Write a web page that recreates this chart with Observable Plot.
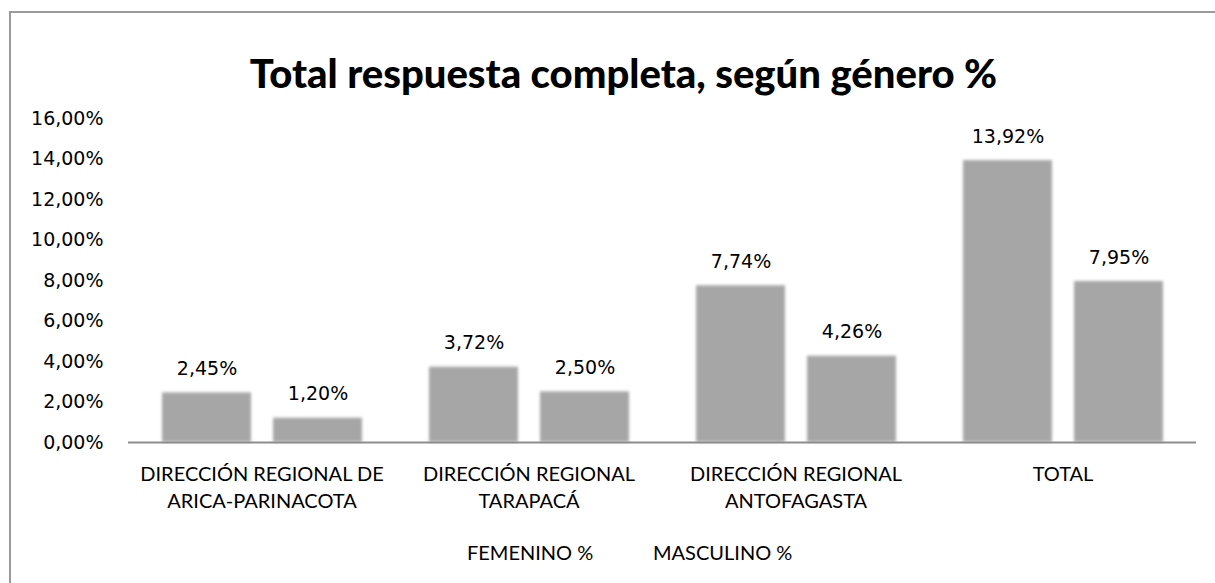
<!DOCTYPE html>
<html><head><meta charset="utf-8">
<script src="https://cdn.jsdelivr.net/npm/d3@7"></script>
<script src="https://cdn.jsdelivr.net/npm/@observablehq/plot@0.6"></script>
<style>
html,body{margin:0;padding:0;width:1215px;height:583px;overflow:hidden;background:#fff;}
#wrap{position:relative;width:1215px;height:583px;overflow:hidden;}
#frame{position:absolute;left:9px;top:11px;width:1300px;height:700px;border:2px solid #9a9a9a;box-sizing:border-box;}
#title{position:absolute;left:16px;top:49px;width:1215px;text-align:center;font-family:Lato,sans-serif;font-weight:900;font-size:40px;line-height:48px;color:#000;white-space:nowrap;}
.leg{position:absolute;top:540px;font-family:Lato,sans-serif;font-size:20px;line-height:24px;color:#000;white-space:nowrap;}
#chart{position:absolute;left:0;top:0;}
#chart g[aria-label="bar"] rect{filter:blur(1.5px);}
</style>
</head><body>
<div id="wrap">
  <div id="frame"></div>
  <div id="chart"></div>
  <div id="title"></div>
</div>
<script>
const titleText = "Total respuesta completa, según género %";
const categories = [
  "DIRECCIÓN REGIONAL DE\nARICA-PARINACOTA",
  "DIRECCIÓN REGIONAL\nTARAPACÁ",
  "DIRECCIÓN REGIONAL\nANTOFAGASTA",
  "TOTAL"
];
const series = ["FEMENINO %", "MASCULINO %"];
const femenino = [2.45, 3.72, 7.74, 13.92];
const masculino = [1.20, 2.50, 4.26, 7.95];
const yTicks = [0, 2, 4, 6, 8, 10, 12, 14, 16];

const data = categories.flatMap((c, i) => [
  {cat: c, s: series[0], v: femenino[i]},
  {cat: c, s: series[1], v: masculino[i]}
]);
const fmt = v => v.toFixed(2).replace(".", ",") + "%";

const chart = Plot.plot({
  width: 1215,
  height: 583,
  marginLeft: 127,
  marginRight: 19,
  marginTop: 118,
  marginBottom: 141,
  style: {background: "transparent", overflow: "visible"},
  fx: {domain: categories, padding: 0},
  x: {domain: series, paddingInner: 0.2, paddingOuter: 0.3, axis: null},
  y: {domain: [0, 16], nice: false},
  marks: [
    Plot.axisY(yTicks, {tickSize: 0, tickPadding: 25, tickFormat: fmt, fontSize: 19, fontFamily: "DejaVu Sans", fill: "#000", label: null}),
    Plot.barY(data, {fx: "cat", x: "s", y: "v", fill: "#a6a6a6"}),
    Plot.ruleY([0], {stroke: "#8c8c8c", strokeWidth: 2}),
    Plot.text(data, {fx: "cat", x: "s", y: "v", text: d => fmt(d.v), dy: -24, fontSize: 19, fontFamily: "DejaVu Sans", fill: "#000", lineAnchor: "middle"}),
    Plot.axisFx({anchor: "bottom", tickSize: 0, tickPadding: 19, fontSize: 20, fontFamily: "Lato", lineHeight: 1.35, fill: "#000", label: null})
  ]
});
document.getElementById("chart").appendChild(chart);
document.getElementById("title").textContent = titleText;

const legendLeft = [467, 653];
series.forEach((s, i) => {
  const el = document.createElement("div");
  el.className = "leg";
  el.style.left = legendLeft[i] + "px";
  el.textContent = s;
  document.getElementById("wrap").appendChild(el);
});
</script>
</body></html>
